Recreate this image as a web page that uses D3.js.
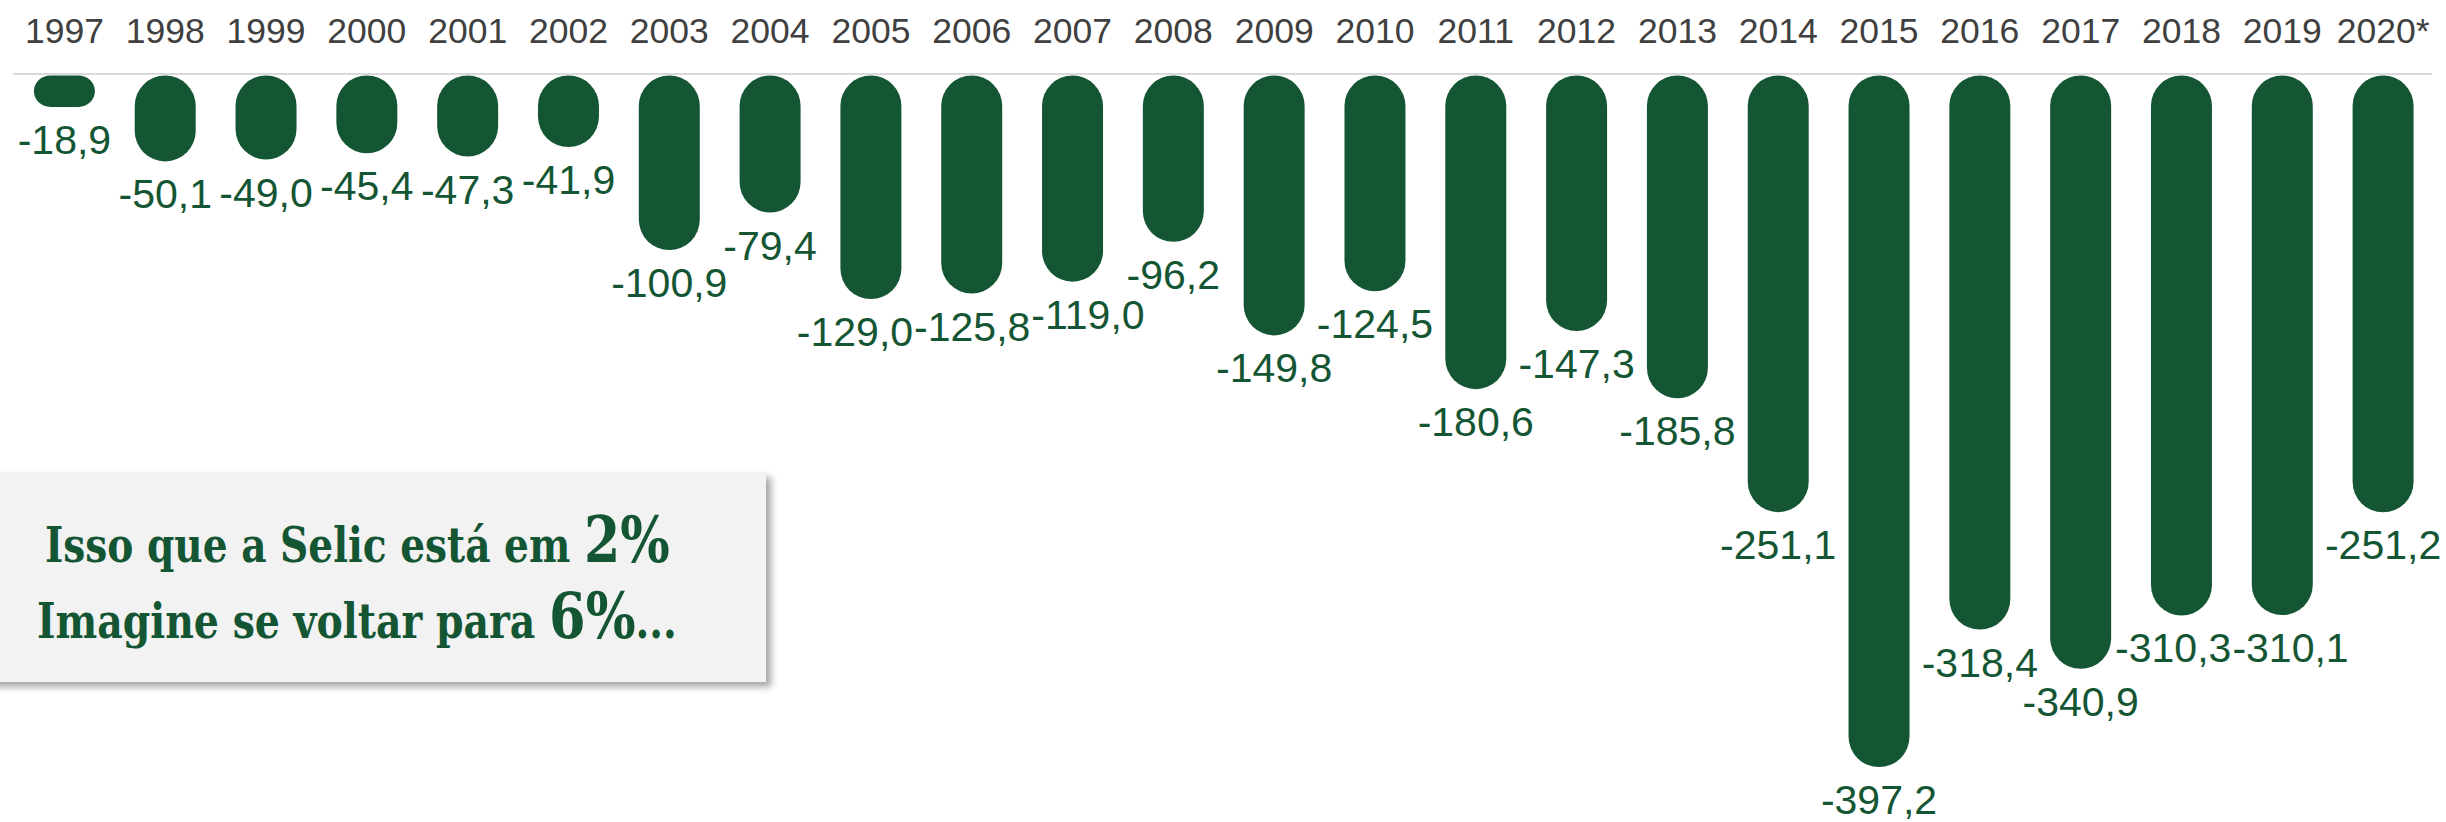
<!DOCTYPE html>
<html>
<head>
<meta charset="utf-8">
<script src="https://cdn.jsdelivr.net/npm/d3@7"></script>
<style>
  html, body { margin: 0; padding: 0; background: #ffffff; }
  svg { display: block; }
</style>
</head>
<body>
<svg id="chart" width="2446" height="822"></svg>
<script>
const years = ["1997","1998","1999","2000","2001","2002","2003","2004","2005","2006","2007","2008","2009","2010","2011","2012","2013","2014","2015","2016","2017","2018","2019","2020*"];
const values = [-18.9,-50.1,-49.0,-45.4,-47.3,-41.9,-100.9,-79.4,-129.0,-125.8,-119.0,-96.2,-149.8,-124.5,-180.6,-147.3,-185.8,-251.1,-397.2,-318.4,-340.9,-310.3,-310.1,-251.2];
const yDomain = [0, -400];
const noteLine1 = ["Isso que a Selic está em ", "2%"];
const noteLine2 = ["Imagine se voltar para ", "6%", "..."];

const data = years.map((y, i) => ({ year: y, value: values[i] }));
const green = "#145633";
const svg = d3.select("#chart");

const pInner = 0.395;
const x = d3.scaleBand().domain(years).range([14, 2433.5]).paddingInner(pInner).paddingOuter(pInner / 2);
const y = d3.scaleLinear().domain(yDomain).range([74, 772]);

// baseline
svg.append("line")
  .attr("x1", 13).attr("x2", 2432)
  .attr("y1", y(0)).attr("y2", y(0))
  .attr("stroke", "#d9d9d9").attr("stroke-width", 2);

// top axis (year labels)
const axis = d3.axisTop(x).tickSize(0).tickPadding(0);
const gAxis = svg.append("g").attr("transform", "translate(0,43)").call(axis);
gAxis.select(".domain").remove();
gAxis.selectAll("text")
  .attr("font-family", "'Liberation Sans', Arial, sans-serif")
  .attr("font-size", 35.5)
  .attr("fill", "#404040")
  .attr("dy", 0);

// bars
const bw = x.bandwidth();
svg.append("g").selectAll("rect").data(data).join("rect")
  .attr("x", d => x(d.year))
  .attr("y", d => y(0) + 1.5)
  .attr("width", bw)
  .attr("height", d => y(d.value) - y(0) - 1.5)
  .attr("rx", d => Math.min(bw / 2, (y(d.value) - y(0)) / 2))
  .attr("ry", d => Math.min(bw / 2, (y(d.value) - y(0)) / 2))
  .attr("fill", green);

// value labels
const ptBR = d3.formatLocale({ decimal: ",", thousands: ".", grouping: [3], currency: ["R$", ""], minus: "-" });
const fmt = ptBR.format(".1f");
const labels = svg.append("g").selectAll("text").data(data).join("text")
  .attr("x", d => x(d.year) + bw / 2)
  .attr("y", d => y(d.value) + 47)
  .attr("text-anchor", "middle")
  .attr("font-family", "'Liberation Sans', Arial, sans-serif")
  .attr("font-size", 41)
  .attr("fill", green)
  .text(d => fmt(d.value));

// simple collision relaxation between neighbouring labels on similar heights
const L = labels.nodes().map(n => ({ n, cx: +n.getAttribute("x"), by: +n.getAttribute("y"), w: n.getComputedTextLength() }));
for (let it = 0; it < 30; it++) {
  for (let i = 1; i < L.length; i++) {
    const a = L[i - 1], b = L[i];
    if (Math.abs(a.by - b.by) < 30) {
      const need = (a.w + b.w) / 2 + 1;
      const gap = b.cx - a.cx;
      if (gap < need) {
        const s = (need - gap) / 2;
        a.cx -= s; b.cx += s;
      }
    }
  }
}
L.forEach(l => l.n.setAttribute("x", l.cx));

// note box
const defs = svg.append("defs");
const f = defs.append("filter").attr("id", "shadow").attr("x", "-10%").attr("y", "-20%").attr("width", "130%").attr("height", "150%");
f.append("feDropShadow").attr("dx", 5).attr("dy", 5).attr("stdDeviation", 3.5)
  .attr("flood-color", "#000").attr("flood-opacity", 0.35);

svg.append("rect")
  .attr("x", -20).attr("y", 472).attr("width", 786).attr("height", 210)
  .attr("fill", "#f2f2f2").attr("filter", "url(#shadow)");

const slab = "'DejaVu Serif Condensed', 'DejaVu Serif', serif";
function noteLine(parts, sizes, x0, baseline, targetWidth) {
  const g = svg.append("g");
  const t = g.append("text")
    .attr("x", 0).attr("y", 0)
    .style("white-space", "pre")
    .attr("font-family", slab)
    .attr("font-weight", "bold")
    .attr("font-stretch", "condensed")
    .attr("fill", green);
  parts.forEach((p, i) => t.append("tspan").attr("font-size", sizes[i]).text(p));
  const w = t.node().getComputedTextLength();
  g.attr("transform", `translate(${x0},${baseline}) scale(${targetWidth / w},1)`);
}
noteLine(noteLine1, [48, 64], 45, 562, 625);
noteLine(noteLine2, [48, 64, 48], 37, 638, 640);
</script>
</body>
</html>
